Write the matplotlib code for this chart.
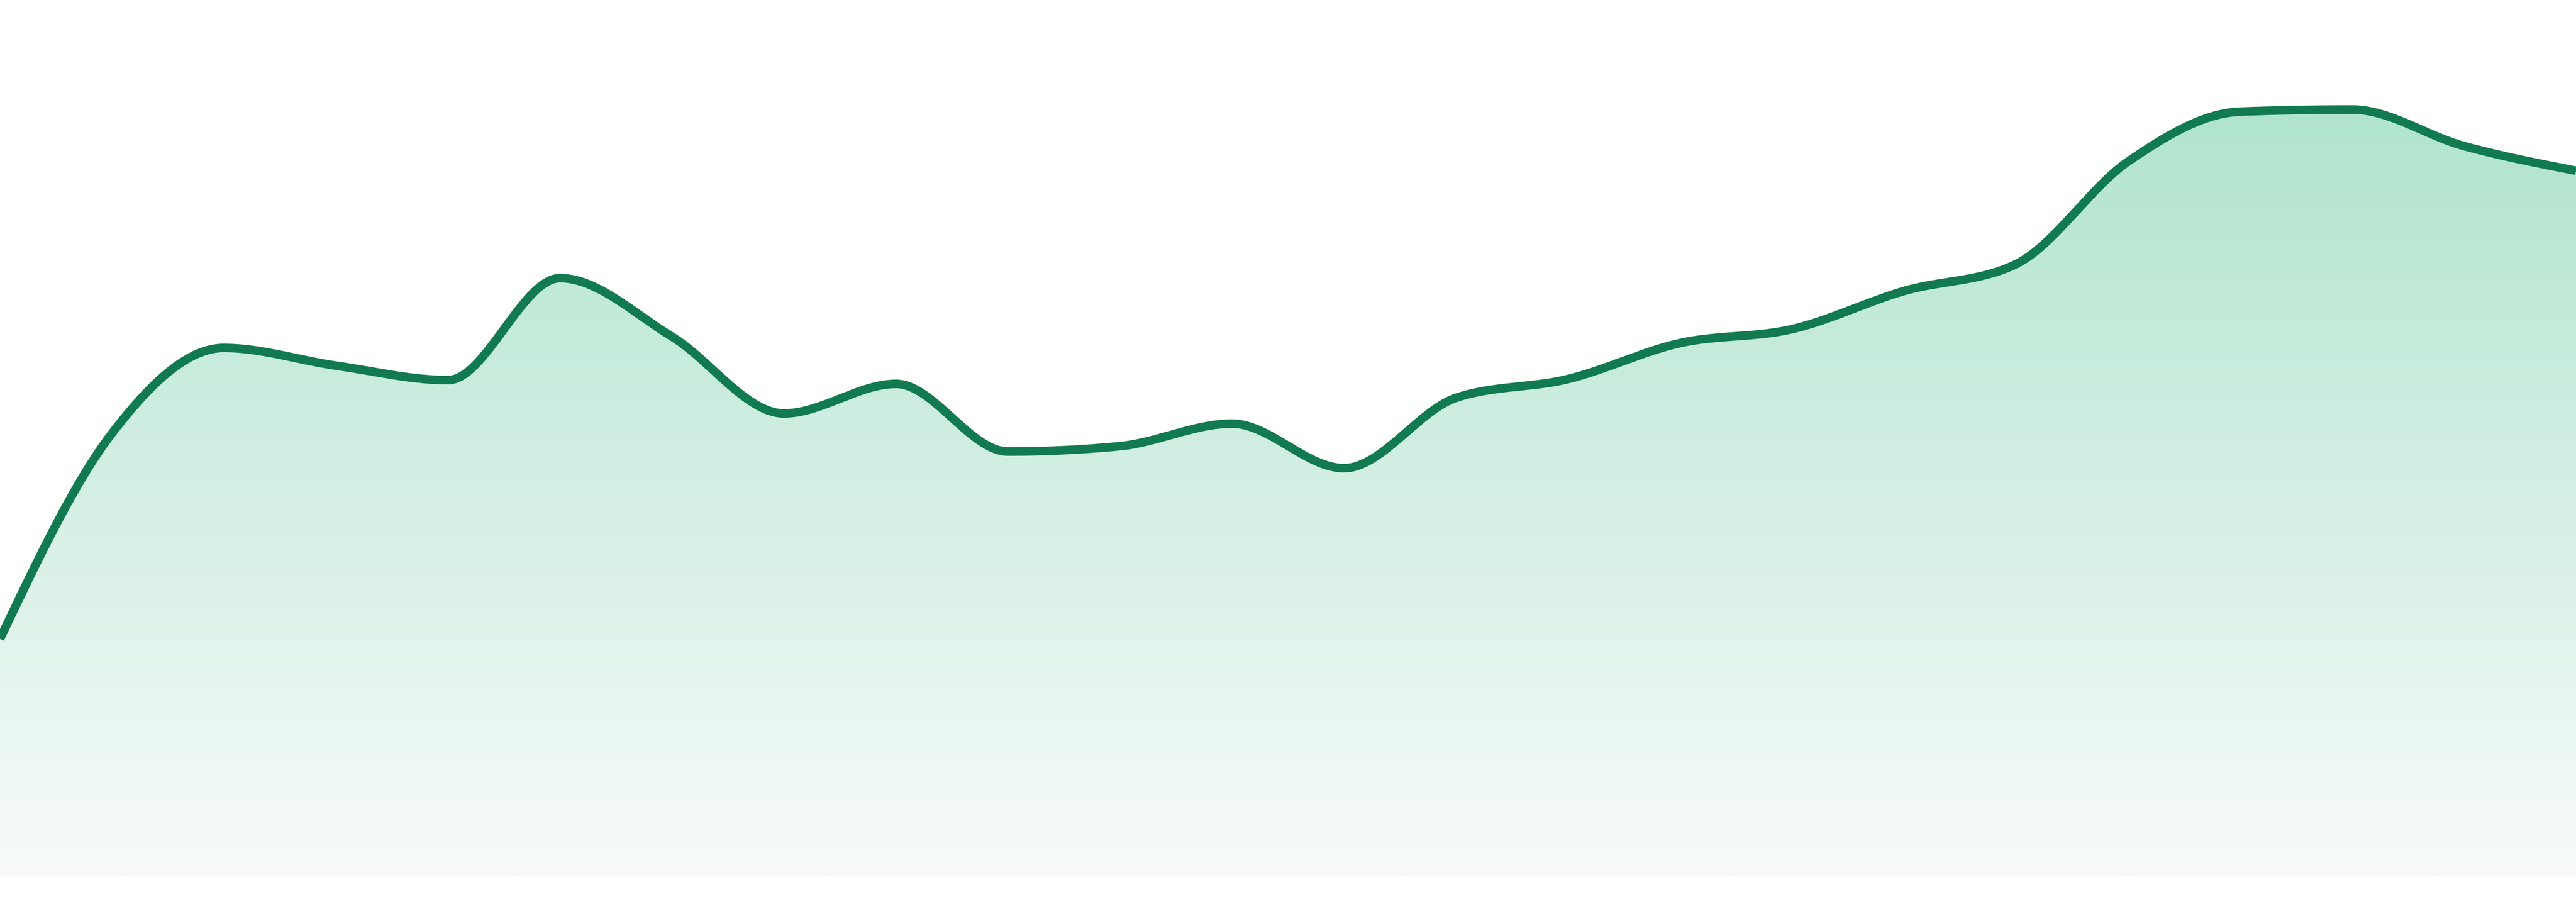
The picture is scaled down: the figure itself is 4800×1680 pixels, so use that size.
import numpy as np
import matplotlib
matplotlib.use("Agg")
import matplotlib.pyplot as plt
from matplotlib.colors import LinearSegmentedColormap

# ---- data ----
periods = list(range(24))
values = [44.2, 82.5, 98.4, 95.1, 92.4, 111.4, 100.5, 86.2, 91.7, 79.1, 80.1, 84.3,
          76.0, 89.1, 92.6, 99.3, 101.9, 109.0, 114.0, 133.1, 142.4, 142.8, 136.0, 131.4]

line_color = "#117A50"
fill_top = "#B0E4CE"
fill_bottom = "#F8FBFA"


def monotone_x(xs, ys, n=60):
    """Monotone cubic interpolation (same rule as d3.curveMonotoneX)."""
    x = np.asarray(xs, float)
    y = np.asarray(ys, float)
    h = np.diff(x)
    s = np.diff(y) / h
    t = np.zeros_like(y)
    sg = lambda v: -1.0 if v < 0 else 1.0
    for i in range(1, len(y) - 1):
        p = (s[i - 1] * h[i] + s[i] * h[i - 1]) / (h[i - 1] + h[i])
        t[i] = (sg(s[i - 1]) + sg(s[i])) * min(abs(s[i - 1]), abs(s[i]), 0.5 * abs(p))
    t[0] = (3 * s[0] - t[1]) / 2
    t[-1] = (3 * s[-1] - t[-2]) / 2
    X, Y = [], []
    for i in range(len(x) - 1):
        u = np.linspace(0, 1, n, endpoint=(i == len(x) - 2))
        h00 = 2 * u**3 - 3 * u**2 + 1
        h10 = u**3 - 2 * u**2 + u
        h01 = -2 * u**3 + 3 * u**2
        h11 = u**3 - u**2
        X.append(x[i] + u * h[i])
        Y.append(h00 * y[i] + h10 * h[i] * t[i] + h01 * y[i + 1] + h11 * h[i] * t[i + 1])
    return np.concatenate(X), np.concatenate(Y)


xs, ys = monotone_x(periods, values)

fig = plt.figure(figsize=(48, 16.8), dpi=100)
ax = fig.add_axes([0, 0, 1, 1])
ax.axis("off")

# gradient fill under the curve
poly = ax.fill_between(xs, ys, 0, facecolor="none", edgecolor="none")
ymax = max(values)
cmap = LinearSegmentedColormap.from_list("g", [fill_bottom, fill_top])
grad = np.linspace(1, 0, 512).reshape(-1, 1)
im = ax.imshow(grad, extent=[periods[0], periods[-1], 0, ymax], aspect="auto",
               cmap=cmap, vmin=0, vmax=1, origin="upper", interpolation="bilinear", zorder=1)
path = poly.get_paths()[0]
im.set_clip_path(path, transform=ax.transData)

ax.plot(xs, ys, color=line_color, lw=11.5, solid_capstyle="butt", solid_joinstyle="round", zorder=3)

ax.set_autoscale_on(False)
ax.set_xlim(periods[0], periods[-1])
ax.set_ylim(-4.8, 163.2)

fig.savefig("out.png", dpi=100, facecolor="white")
